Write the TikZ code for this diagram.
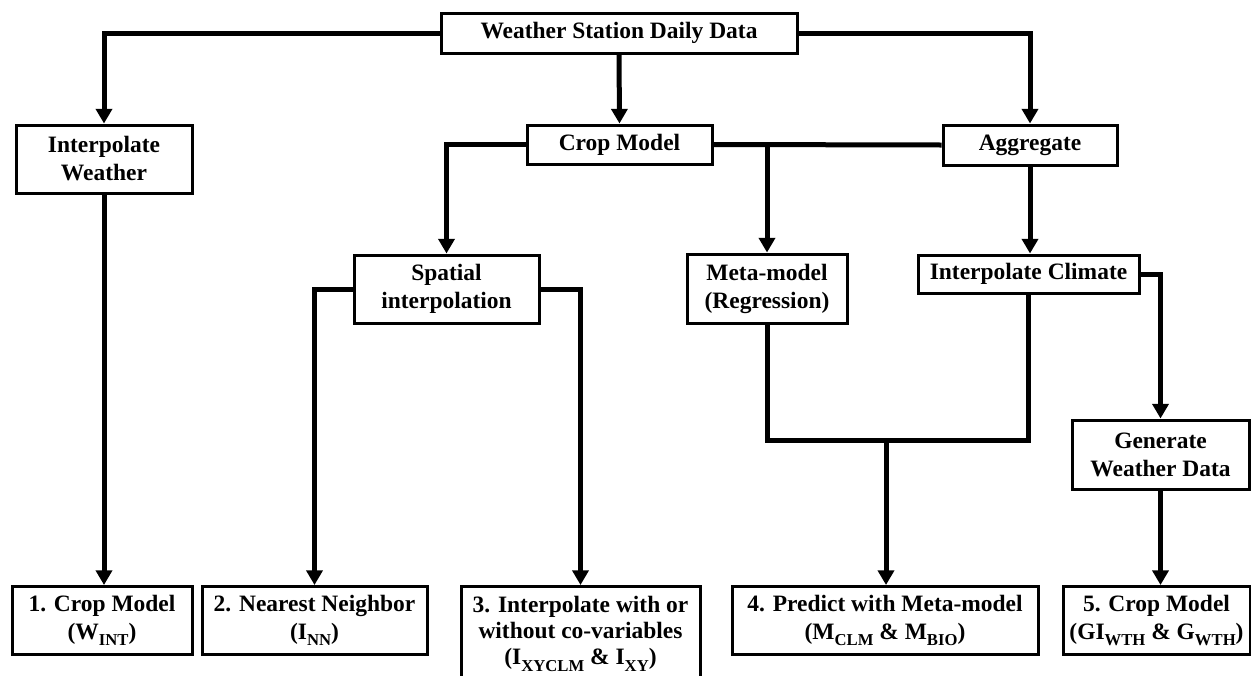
\documentclass[tikz,border=0pt]{standalone}
\usepackage{fontspec}
\setmainfont{Liberation Serif}
\usetikzlibrary{arrows.meta}
% lowered, smaller subscript letters used in the result labels
\newcommand{\lowsub}[1]{\raisebox{-0.28em}{\fontsize{12.5}{12.5}\selectfont #1}}
\begin{document}
\begin{tikzpicture}[x=0.75pt,y=-0.75pt,
  box/.style={draw, line width=2.25pt, inner sep=0pt, align=center,
              font=\fontsize{17.6}{21}\selectfont\bfseries},
  wh/.style 2 args={minimum width=#1*0.75pt, minimum height=#2*0.75pt},
  link/.style={line width=3.75pt},
  flow/.style={link, -{Triangle[width=12pt,length=11pt]}}]
\clip (0,0) rectangle (1251,675);

% source and first level
\node[box, wh={356}{40}] (top)  at (619,33)    {Weather Station Daily Data};
\node[box, wh={176}{68}] (iw)   at (104,159)   {Interpolate\\Weather};
\node[box, wh={185}{39}] (crop) at (619.5,144.5) {Crop Model};
\node[box, wh={174}{40}] (agg)  at (1030,145)  {Aggregate};

% second level
\node[box, wh={185}{68}] (sp)   at (446.5,289) {Spatial\\interpolation};
\node[box, wh={160}{69}] (meta) at (767,288.5) {Meta-model\\(Regression)};
\node[box, wh={221}{38}] (ic)   at (1028.5,274) {Interpolate Climate};
\node[box, wh={177}{69}] (gen)  at (1160.5,454.5) {Generate\\Weather Data};

% results
\node[box, wh={180}{68}, anchor=north] (b1) at (102,585)   {1. Crop Model\\(W\lowsub{INT})};
\node[box, wh={225}{68}, anchor=north] (b2) at (314.5,585) {2. Nearest Neighbor\\(I\lowsub{NN})};
\node[box, minimum width=239*0.75pt, inner ysep=7.5pt, anchor=north,
      font=\fontsize{17.6}{19.5}\selectfont\bfseries] (b3) at (580.5,585)
      {3. Interpolate with or\\without co-variables\\(I\lowsub{XYCLM} \& I\lowsub{XY})};
\node[box, wh={306}{68}, anchor=north] (b4) at (885,585)   {4. Predict with Meta-model\\(M\lowsub{CLM} \& M\lowsub{BIO})};
\node[box, wh={187}{68}, anchor=north] (b5) at (1156.5,585) {5. Crop Model\\(GI\lowsub{WTH} \& G\lowsub{WTH})};

\coordinate (join) at (886,440);

% connectors
\draw[flow] (top.west) -| (iw.north);
\draw[flow] (top.east) -| (agg.north);
\draw[flow] (top.south) -- (crop.north);
\draw[flow] (crop.west) -| (sp.north);
\draw[link] (crop.east) -- (agg.west);
\draw[flow] (crop.east -| meta.north) -- (meta.north);
\draw[flow] (agg.south) -- (agg.south |- ic.north);
\draw[flow] (ic.east) -| (gen.north);
\draw[flow] (gen.south) -- (gen.south |- b5.north);
\draw[flow] (iw.south) -- (iw.south |- b1.north);
\draw[flow] (sp.west) -| (b2.north);
\draw[flow] (sp.east) -| (b3.north);
\draw[link] (meta.south) |- (join) -| (ic.south);
\draw[flow] (join) -- (join |- b4.north);
\end{tikzpicture}
\end{document}
